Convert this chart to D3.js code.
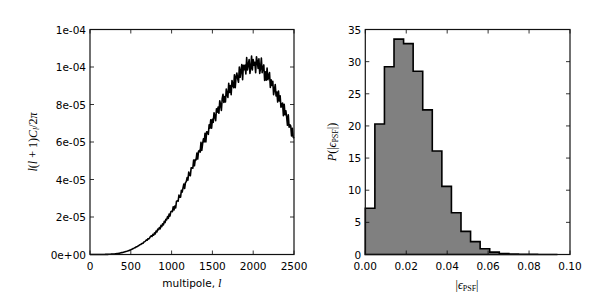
<!DOCTYPE html>
<html><head><meta charset="utf-8">
<script src="https://cdn.jsdelivr.net/npm/d3@7"></script>
<style>body{margin:0;background:#fff}svg{display:block}text{font-family:"DejaVu Sans",sans-serif;fill:#000}</style>
</head><body><svg id="c" width="600" height="300"></svg>
<script>
// ---- Left panel: angular power spectrum l(l+1)C_l/2pi (units of 1e-6), sampled every 10 in l
const ellStep = 10;
const clValues = [
0,0,0,0,0, 0,0,0,0,0, 0,0,0.01,0.01,0.02, 0.02,0.03,0.03,0.04,0.05,
0.05,0.07,0.09,0.11,0.13, 0.15,0.18,0.21,0.24,0.27, 0.3,0.36,0.42,0.48,0.54, 0.6,0.7,0.8,0.9,1.0,
1.1,1.22,1.34,1.46,1.58, 1.7,1.85,2.02,2.18,2.33, 2.5,2.75,2.95,3.2,3.4, 3.65,3.8,4.15,4.25,4.6,
4.8,5.2,5.3,5.7,5.9, 6.0,6.7,6.8,7.2,7.7, 7.6,8.4,8.3,8.8,9.5, 9.9,9.6,10.7,10.3,11.5,
11.0,12.5,12.0,13.5,13.2, 14.4,13.7,15.5,14.9,16.4, 15.8,17.7,17.0,18.8,18.5, 20.2,19.3,21.6,20.5,22.7,
23.1,22.9,25.5,23.8,25.9, 24.9,28.4,28.6,28.4,31.7, 30.6,30.6,34.3,33.3,35.5, 37.6,35.2,38.4,38.8,41.0,
39.7,44.0,42.3,42.0,46.3, 46.2,46.0,50.4,47.3,50.7, 50.5,54.1,50.9,55.0,55.5, 54.6,59.8,55.5,59.0,61.7,
60.1,64.7,60.0,65.5,65.3, 64.1,69.2,67.4,71.9,67.4, 72.1,70.5,75.6,73.7,71.4, 77.7,75.9,78.6,75.3,82.0,
79.9,76.8,83.1,85.4,81.1, 84.3,81.3,88.2,85.2,83.8, 91.3,86.4,90.1,85.2,92.8, 90.5,89.0,95.9,89.0,94.7,
96.8,93.7,91.9,100.0,94.5, 98.0,101.3,93.2,100.9,98.5, 101.0,96.3,105.1,98.4,101.2, 104.0,96.6,99.7,105.8,98.4,
104.0,101.0,102.5,97.0,105.5, 103.0,99.2,104.4,96.6,99.3, 104.8,97.0,99.8,101.1,92.8, 97.5,93.0,99.5,93.2,95.6,
97.0,89.1,93.2,90.2,92.4, 85.2,88.1,90.6,84.6,86.7, 81.3,87.2,81.9,84.6,78.5, 80.4,80.8,74.0,80.1,74.5,
76.7,73.3,68.9,74.5,67.9, 69.2,68.6,63.2,67.3,62.6, 62.0
];
const clUnit = 1e-6;
const leftXTicks = [0, 500, 1000, 1500, 2000, 2500];
const leftXTickLabels = ["0", "500", "1000", "1500", "2000", "2500"];
const leftYTicks = [0, 2e-5, 4e-5, 6e-5, 8e-5, 1e-4, 1.2e-4];
const leftYTickLabels = ["0e+00", "2e-05", "4e-05", "6e-05", "8e-05", "1e-04", "1e-04"];

// ---- Right panel: histogram of |e_PSF| (density)
const binEdges = [0, 0.004675, 0.00935, 0.014025, 0.0187, 0.023375, 0.02805, 0.032725, 0.0374, 0.042075, 0.04675,
  0.051425, 0.0561, 0.060775, 0.06545, 0.070125, 0.0748, 0.079475, 0.08415, 0.088825, 0.0935];
const binDensity = [7.2, 20.3, 29.2, 33.5, 32.8, 28.5, 22.5, 16.1, 10.6, 6.5, 3.6, 2.0, 0.9, 0.37, 0.16, 0.07, 0.03, 0.02, 0.01, 0.01];
const rightXTicks = [0, 0.02, 0.04, 0.06, 0.08, 0.10];
const rightXTickLabels = ["0.00", "0.02", "0.04", "0.06", "0.08", "0.10"];
const rightYTicks = [0, 5, 10, 15, 20, 25, 30, 35];
const rightYTickLabels = ["0", "5", "10", "15", "20", "25", "30", "35"];

const svg = d3.select("#c");
const plotTop = 29.5, plotBottom = 254.5;
const FS = "10.5px";

function frame(g, x, y, xt, xl, yt, yl) {
  const [x0, x1] = x.range(), [y0, y1] = y.range();
  const tl = 4;
  const tk = g.append("g").attr("stroke", "#000").attr("stroke-width", 0.8);
  xt.forEach(v => {
    tk.append("line").attr("x1", x(v)).attr("x2", x(v)).attr("y1", y0).attr("y2", y0 - tl);
    tk.append("line").attr("x1", x(v)).attr("x2", x(v)).attr("y1", y1).attr("y2", y1 + tl);
  });
  yt.forEach(v => {
    tk.append("line").attr("x1", x0).attr("x2", x0 + tl).attr("y1", y(v)).attr("y2", y(v));
    tk.append("line").attr("x1", x1).attr("x2", x1 - tl).attr("y1", y(v)).attr("y2", y(v));
  });
  g.append("rect").attr("x", x0).attr("y", y1).attr("width", x1 - x0).attr("height", y0 - y1)
    .attr("fill", "none").attr("stroke", "#111").attr("stroke-width", 1.2);
  xt.forEach((v, i) => g.append("text").attr("x", x(v)).attr("y", y0 + 15).attr("text-anchor", "middle")
    .style("font-size", FS).text(xl[i]));
  yt.forEach((v, i) => g.append("text").attr("x", x0 - 4).attr("y", y(v) + 4).attr("text-anchor", "end")
    .style("font-size", FS).text(yl[i]));
}

// Left panel
{
  const x = d3.scaleLinear().domain([0, 2500]).range([90, 294]);
  const y = d3.scaleLinear().domain([0, 1.2e-4]).range([plotBottom, plotTop]);
  const g = svg.append("g");
  const pts = clValues.map((v, i) => [i * ellStep, v * clUnit]);
  const line = d3.line().x(d => x(d[0])).y(d => y(d[1]));
  g.append("path").datum(pts).attr("d", line)
    .attr("fill", "none").attr("stroke", "#000").attr("stroke-width", 1.6).attr("stroke-linejoin", "round");
  frame(g, x, y, leftXTicks, leftXTickLabels, leftYTicks, leftYTickLabels);
  g.append("text").attr("x", 192).attr("y", 287).attr("text-anchor", "middle").style("font-size", FS)
    .html('multipole, <tspan style="font-family:\'DejaVu Serif\',serif;font-style:italic">l</tspan>');
  const yl = g.append("text").attr("transform", "translate(37,142) rotate(-90)").attr("text-anchor", "middle")
    .style("font-family", "'Liberation Serif',serif").style("font-size", "12px");
  yl.html('<tspan font-style="italic">l</tspan>(<tspan font-style="italic">l</tspan> + 1)<tspan font-style="italic">C</tspan><tspan font-style="italic" font-size="8px" dy="2">l</tspan><tspan dy="-2">/2</tspan><tspan font-style="italic">π</tspan>');
}

// Right panel
{
  const x = d3.scaleLinear().domain([0, 0.1]).range([365.3, 570]);
  const y = d3.scaleLinear().domain([0, 35]).range([plotBottom, plotTop]);
  const g = svg.append("g");
  const pts = [[binEdges[0], 0]];
  binDensity.forEach((v, i) => { pts.push([binEdges[i], v]); pts.push([binEdges[i + 1], v]); });
  pts.push([binEdges[binEdges.length - 1], 0]);
  const line = d3.line().x(d => x(d[0])).y(d => y(d[1]));
  g.append("path").datum(pts).attr("d", d => line(d) + "Z")
    .attr("fill", "#808080").attr("stroke", "#000").attr("stroke-width", 1.6).attr("stroke-linejoin", "miter");
  frame(g, x, y, rightXTicks, rightXTickLabels, rightYTicks, rightYTickLabels);
  const xl = g.append("text").attr("x", 467).attr("y", 289).attr("text-anchor", "middle")
    .style("font-family", "'Liberation Serif',serif").style("font-size", "12px");
  xl.html('|<tspan font-style="italic">ϵ</tspan><tspan font-size="8px" dy="2">PSF</tspan><tspan dy="-2">|</tspan>');
  const yl = g.append("text").attr("transform", "translate(336,142) rotate(-90)").attr("text-anchor", "middle")
    .style("font-family", "'Liberation Serif',serif").style("font-size", "12px");
  yl.html('<tspan font-style="italic">P</tspan>(|<tspan font-style="italic">ϵ</tspan><tspan font-size="8px" dy="2">PSF</tspan><tspan dy="-2">|)</tspan>');
}
</script></body></html>
